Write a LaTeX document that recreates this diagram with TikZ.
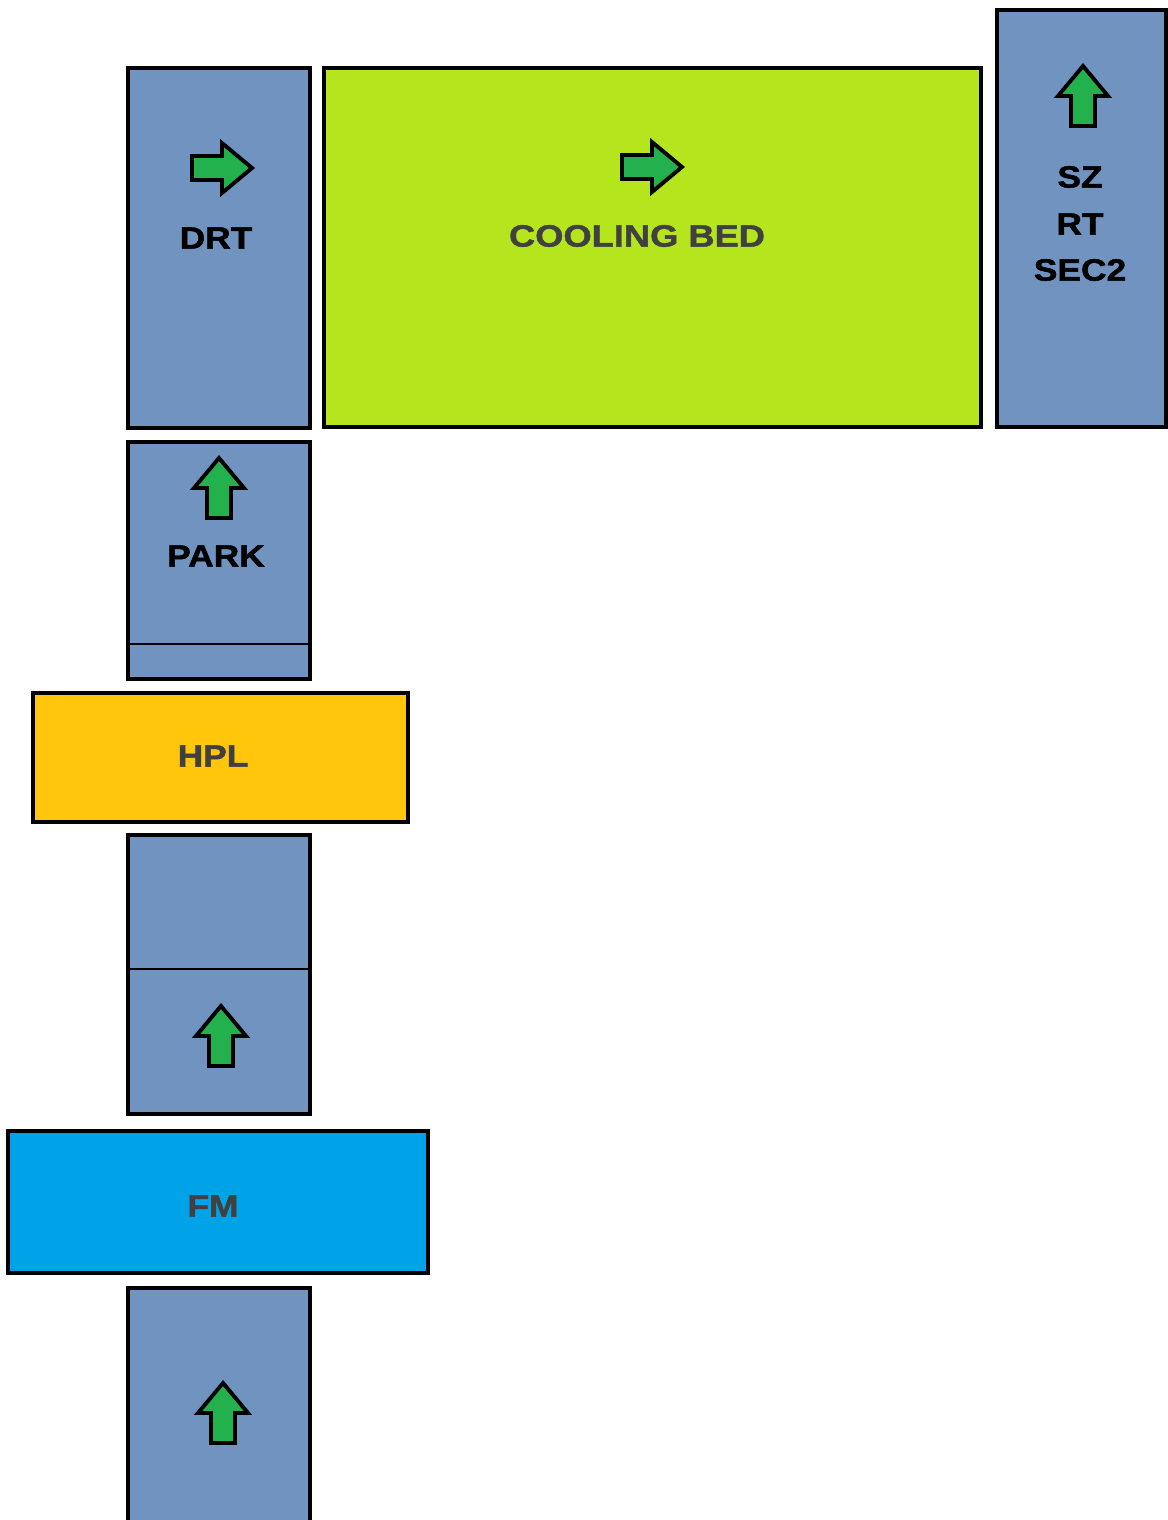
\documentclass[tikz,border=0pt]{standalone}
\usepackage{fontspec}
\newfontfamily\plantfont{Liberation Sans}[FakeStretch=1.15, FakeBold=1.5]
\newfontfamily\widefont{Liberation Sans}[FakeStretch=1.18, FakeBold=1.5]
\definecolor{rollblue}{HTML}{7093C0}
\definecolor{bedgreen}{HTML}{B5E61D}
\definecolor{hplyellow}{HTML}{FFC60B}
\definecolor{fmblue}{HTML}{00A2E8}
\definecolor{arrowgreen}{HTML}{22B14C}
\definecolor{labelgray}{HTML}{404040}
\tikzset{
	unit/.style={draw=black, line width=2pt},
	divider/.style={draw=black, line width=0.6pt},
	tag/.style={font=\plantfont\bfseries\fontsize{17.5}{21}\selectfont, inner sep=0pt},
	flow/.style={draw=black, line width=2.2pt, fill=arrowgreen, line join=miter},
	pics/rightarrow/.style={code={
		\draw[flow] (-30,-12) -- (0,-12) -- (0,-25) -- (30,0) -- (0,25) -- (0,12) -- (-30,12) -- cycle;
	}},
	pics/uparrow/.style={code={
		\draw[flow] (-12,30) -- (-12,0) -- (-25,0) -- (0,-30) -- (25,0) -- (12,0) -- (12,30) -- cycle;
	}}
}
\begin{document}
\begin{tikzpicture}[x=0.02cm,y=-0.02cm]
	\useasboundingbox (0,0) rectangle (1168,1520);
	% top row
	\draw[unit, fill=rollblue] (128,68) rectangle (310,428);
	\draw[unit, fill=bedgreen] (324,68) rectangle (981,427);
	\draw[unit, fill=rollblue] (997,10) rectangle (1166,427);
	\pic at (222,168) {rightarrow};
	\pic at (652,167) {rightarrow};
	\pic at (1083,96) {uparrow};
	\node[tag] (drt) at (216,238) {DRT};
	\node[tag, font=\widefont\bfseries\fontsize{17.5}{21}\selectfont, text=labelgray] (bed) at (637,236) {COOLING BED};
	\node[tag] (sz) at (1080,177) {SZ};
	\node[tag] (rt) at (1080,224) {RT};
	\node[tag] (sec) at (1080,270) {SEC2};
	% park and hpl
	\draw[unit, fill=rollblue] (128,442) rectangle (310,679);
	\draw[divider] (128,644) -- (310,644);
	\pic at (219,488) {uparrow};
	\node[tag] (park) at (216,556) {PARK};
	\draw[unit, fill=hplyellow] (33,693) rectangle (408,822);
	\node[tag, text=labelgray] (hpl) at (213,756) {HPL};
	% lower line
	\draw[unit, fill=rollblue] (128,835) rectangle (310,1114);
	\draw[divider] (128,969) -- (310,969);
	\pic at (221,1036) {uparrow};
	\draw[unit, fill=fmblue] (8,1131) rectangle (428,1273);
	\node[tag, text=labelgray] (fm) at (213,1206) {FM};
	\draw[unit, fill=rollblue] (128,1288) rectangle (310,1540);
	\pic at (223,1413) {uparrow};
\end{tikzpicture}
\end{document}
